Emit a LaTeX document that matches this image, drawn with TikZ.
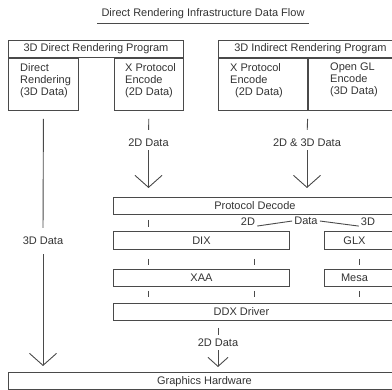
\documentclass[tikz,border=0pt]{standalone}
\usepackage{fontspec}
\setmainfont{Liberation Sans}
\usetikzlibrary{arrows.meta}

\definecolor{linegray}{HTML}{4A4A4A}
\definecolor{textgray}{HTML}{333333}

\tikzset{
    box/.style={draw=linegray, line width=0.9pt, anchor=north west, minimum height=17pt,
        inner sep=0pt, font=\fontsize{11}{12}\selectfont, text=textgray},
    txt/.style={inner sep=0pt, font=\fontsize{11}{12}\selectfont, text=textgray, align=left},
    lbl/.style={txt, inner sep=3pt},
    tick/.style={draw=linegray, line width=0.9pt},
    flow/.style={tick, -{Straight Barb[length=12pt, width=27pt, line width=0.9pt]}}
}

\begin{document}
\begin{tikzpicture}[x=1pt, y=-1pt]
    \useasboundingbox (0,0) rectangle (392,390);
    \clip (0,0) rectangle (392,390);

    % Title
    \node[txt, inner xsep=4pt, inner ysep=4.5pt] (title) at (203,14) {Direct Rendering Infrastructure Data Flow};
    \draw[tick] (title.south west) -- (title.south east);

    % Direct rendering program
    \node[box, minimum width=175pt] (prog1) at (8,40) {3D Direct Rendering Program};
    \node[box, minimum width=70pt, minimum height=52pt] (drc) at (prog1.south west) {};
    \node[box, minimum width=69pt, minimum height=52pt, anchor=north east] (xenc) at (prog1.south east) {};
    \node[txt, anchor=north west] (drctext) at (20,63) {Direct\\Rendering\\(3D Data)};
    \node[txt, anchor=north west] (xenctext) at (125,63) {X Protocol\\Encode\\(2D Data)};

    % Indirect rendering program
    \node[box, minimum width=184pt] (prog2) at (218,40) {3D Indirect Rendering Program};
    \node[box, minimum width=89pt, minimum height=52pt] (xenc2) at (prog2.south west) {};
    \node[box, minimum width=95pt, minimum height=52pt] (glenc) at (xenc2.north east) {};
    \node[txt, anchor=north west] (xenc2text) at (230,63) {X Protocol\\Encode\\\hspace*{5pt}(2D Data)};
    \node[txt, anchor=north west] (glenctext) at (330,63) {Open GL\\Encode\\(3D Data)};

    % X server stack
    \node[box, minimum width=283pt] (pd) at (113,197) {Protocol Decode};
    \node[box, minimum width=176pt, minimum height=18pt] (dix) at (113,231) {DIX};
    \node[box, minimum width=72pt, minimum height=18pt, label={[txt, xshift=-6pt]center:GLX}] (glx) at (324,231) {};
    \node[box, minimum width=176pt] (xaa) at (113,269) {XAA};
    \node[box, minimum width=72pt, label={[txt, xshift=-6pt]center:Mesa}] (mesa) at (324,269) {};
    \node[box, minimum width=283pt, label={[txt, xshift=-13.5pt]center:DDX Driver}] (ddx) at (113,303) {};
    \node[box, minimum width=392pt, minimum height=17.5pt] (gh) at (8,372) {Graphics Hardware};

    % Data labels
    \node[lbl] (lab2d) at (148.5,143) {2D Data};
    \node[lbl] (lab23d) at (307,143) {2D \& 3D Data};
    \node[lbl] (lab3d) at (43,241) {3D Data};
    \node[lbl] (lab2dlow) at (218,343) {2D Data};
    \node[txt] (dec2d) at (248,222) {2D};
    \node[txt] (decdata) at (306,221) {Data};
    \node[txt] (dec3d) at (368,222) {3D};

    % Flows into the server
    \draw[tick, shorten <=8pt, shorten >=6pt] (xenc.south) -- (lab2d.north);
    \draw[flow, shorten >=9pt] (lab2d.south) -- (lab2d.south |- pd.north);
    \draw[tick, shorten <=8pt, shorten >=6pt] (xenc2.south east) -- (lab23d.north);
    \draw[flow, shorten >=9pt] (lab23d.south) -- (lab23d.south |- pd.north);

    % Direct path to hardware
    \draw[tick, shorten <=8pt, shorten >=6pt] (drc.south) -- (lab3d.north);
    \draw[flow, shorten <=6pt, shorten >=6pt] (lab3d.south) -- (lab3d.south |- gh.north);

    % Split after decode
    \draw[tick] ([xshift=2pt]dec2d.south east) -- ([xshift=-2pt]decdata.west);
    \draw[tick] ([xshift=2pt]decdata.east) -- ([xshift=-2pt]dec3d.south west);

    % Ticks between layers
    \draw[tick, shorten <=5pt, shorten >=4pt] (pd.south -| 148.5,0) -- (dix.north -| 148.5,0);
    \foreach \x in {148.5,254} {
        \draw[tick, shorten <=9pt, shorten >=4pt] (dix.south -| \x,0) -- (xaa.north -| \x,0);
        \draw[tick, shorten <=4pt, shorten >=6pt] (xaa.south -| \x,0) -- (ddx.north -| \x,0);
    }
    \draw[tick, shorten <=9pt, shorten >=4pt] (glx.south -| 359,0) -- (mesa.north -| 359,0);
    \draw[tick, shorten <=4pt, shorten >=6pt] (mesa.south -| 359,0) -- (ddx.north -| 359,0);

    % DDX to hardware
    \draw[tick, shorten <=7pt, shorten >=1pt] (lab2dlow.north |- ddx.south) -- (lab2dlow.north);
    \draw[flow, -{Straight Barb[length=9pt, width=20pt, line width=0.9pt]}, shorten >=5pt]
        (lab2dlow.south) -- (lab2dlow.south |- gh.north);

\end{tikzpicture}
\end{document}
